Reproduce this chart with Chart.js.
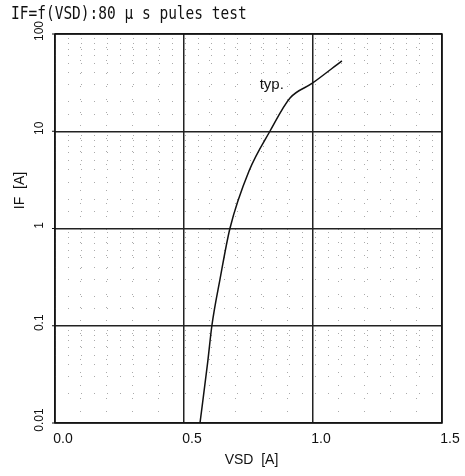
<!DOCTYPE html>
<html>
<head>
<meta charset="utf-8">
<script src="https://cdn.jsdelivr.net/npm/chart.js@4.4.0/dist/chart.umd.min.js"></script>
<style>
  body { margin: 0; background: #fff; }
  #wrap { width: 465px; height: 476px; position: relative; }
</style>
</head>
<body>
<div id="wrap"><canvas id="chart"></canvas></div>
<script>
// curve: VSD [V] vs IF [A]
const vsd = [0.562, 0.592, 0.608, 0.640, 0.678, 0.752, 0.833, 0.911, 0.996, 1.112];
const ifA = [0.01, 0.0426, 0.1, 0.305, 1, 3.9, 10, 22, 31, 53];

const xTickVals = [0.0, 0.5, 1.0, 1.5];
const xTickLabels = ['0.0', '0.5', '1.0', '1.5'];
const yTickVals = [0.01, 0.1, 1, 10, 100];
const yTickLabels = ['0.01', '0.1', '1', '10', '100'];

const titleText = 'IF=f(VSD):80 \u03bc s pules test';
const noteText = 'typ.';
const notePos = { x: 0.84, y: 30 };

const points = vsd.map((v, i) => ({ x: v, y: ifA[i] }));

function isMajorX(v) { return Math.abs(v * 2 - Math.round(v * 2)) < 1e-6; }
function isMajorY(v) { const l = Math.log10(v); return Math.abs(l - Math.round(l)) < 1e-6; }

const labelsPlugin = {
  id: 'labels',
  beforeDraw(chart) {
    const c = chart.ctx;
    c.save();
    c.fillStyle = '#fff';
    c.fillRect(0, 0, chart.width, chart.height);
    c.restore();
  },
  afterDraw(chart) {
    const c = chart.ctx;
    const xs = chart.scales.x, ys = chart.scales.y;
    const a = chart.chartArea;
    c.save();
    c.fillStyle = '#111';
    c.strokeStyle = '#111';

    // box
    c.lineWidth = 1.5;
    c.strokeRect(a.left, a.top, a.right - a.left, a.bottom - a.top);

    // title
    c.save();
    c.font = '14.5px "DejaVu Sans Mono", monospace';
    c.textBaseline = 'alphabetic';
    c.textAlign = 'left';
    c.translate(11, 19);
    c.scale(1, 1.2);
    c.fillText(titleText, 0, 0);
    c.restore();

    // x tick labels
    c.font = '14px "Liberation Sans Narrow", "Liberation Sans", sans-serif';
    c.textAlign = 'center';
    c.textBaseline = 'middle';
    xTickVals.forEach((v, i) => {
      c.fillText(xTickLabels[i], xs.getPixelForValue(v) + 8, a.bottom + 16);
    });

    // y tick labels, rotated
    c.font = '12px "Liberation Sans Narrow", "Liberation Sans", sans-serif';
    yTickVals.forEach((v, i) => {
      const y = ys.getPixelForValue(v);
      c.save();
      c.translate(40, y - 3);
      c.rotate(-Math.PI / 2);
      c.fillText(yTickLabels[i], 0, 0);
      c.restore();
      c.lineWidth = 1;
      c.beginPath();
      c.moveTo(a.left - 3, y);
      c.lineTo(a.left, y);
      c.stroke();
    });

    // axis titles
    c.font = '14px "Liberation Sans Narrow", "Liberation Sans", sans-serif';
    c.fillText('VSD  [A]', (a.left + a.right) / 2 + 3, a.bottom + 37);
    c.save();
    c.translate(20, ys.getPixelForValue(1) - 38);
    c.rotate(-Math.PI / 2);
    c.fillText('IF  [A]', 0, 0);
    c.restore();

    // note
    c.font = '15px "Liberation Sans", sans-serif';
    c.fillText(noteText, xs.getPixelForValue(notePos.x), ys.getPixelForValue(notePos.y));
    c.restore();
  }
};

new Chart(document.getElementById('chart'), {
  type: 'scatter',
  data: {
    datasets: [{
      data: points,
      showLine: true,
      borderColor: '#111',
      borderWidth: 1.5,
      pointRadius: 0,
      cubicInterpolationMode: 'monotone'
    }]
  },
  options: {
    responsive: true,
    maintainAspectRatio: false,
    animation: false,
    layout: { padding: { left: 55, right: 23, top: 34, bottom: 53 } },
    plugins: { legend: { display: false }, tooltip: { enabled: false } },
    scales: {
      x: {
        type: 'linear',
        min: 0, max: 1.5,
        ticks: { display: false, stepSize: 0.1 },
        grid: {
          drawTicks: false,
          color: ctx => isMajorX(ctx.tick.value) ? '#222' : '#aaa',
          lineWidth: ctx => isMajorX(ctx.tick.value) ? 1.5 : 1
        },
        border: { display: false, dash: ctx => isMajorX(ctx.tick.value) ? [] : [1, 12] }
      },
      y: {
        type: 'logarithmic',
        min: 0.01, max: 100,
        ticks: { display: false },
        grid: {
          drawTicks: false,
          color: ctx => isMajorY(ctx.tick.value) ? '#222' : '#aaa',
          lineWidth: ctx => isMajorY(ctx.tick.value) ? 1.5 : 1
        },
        border: { display: false, dash: ctx => isMajorY(ctx.tick.value) ? [] : [1, 12] }
      }
    }
  },
  plugins: [labelsPlugin]
});
</script>
</body>
</html>
